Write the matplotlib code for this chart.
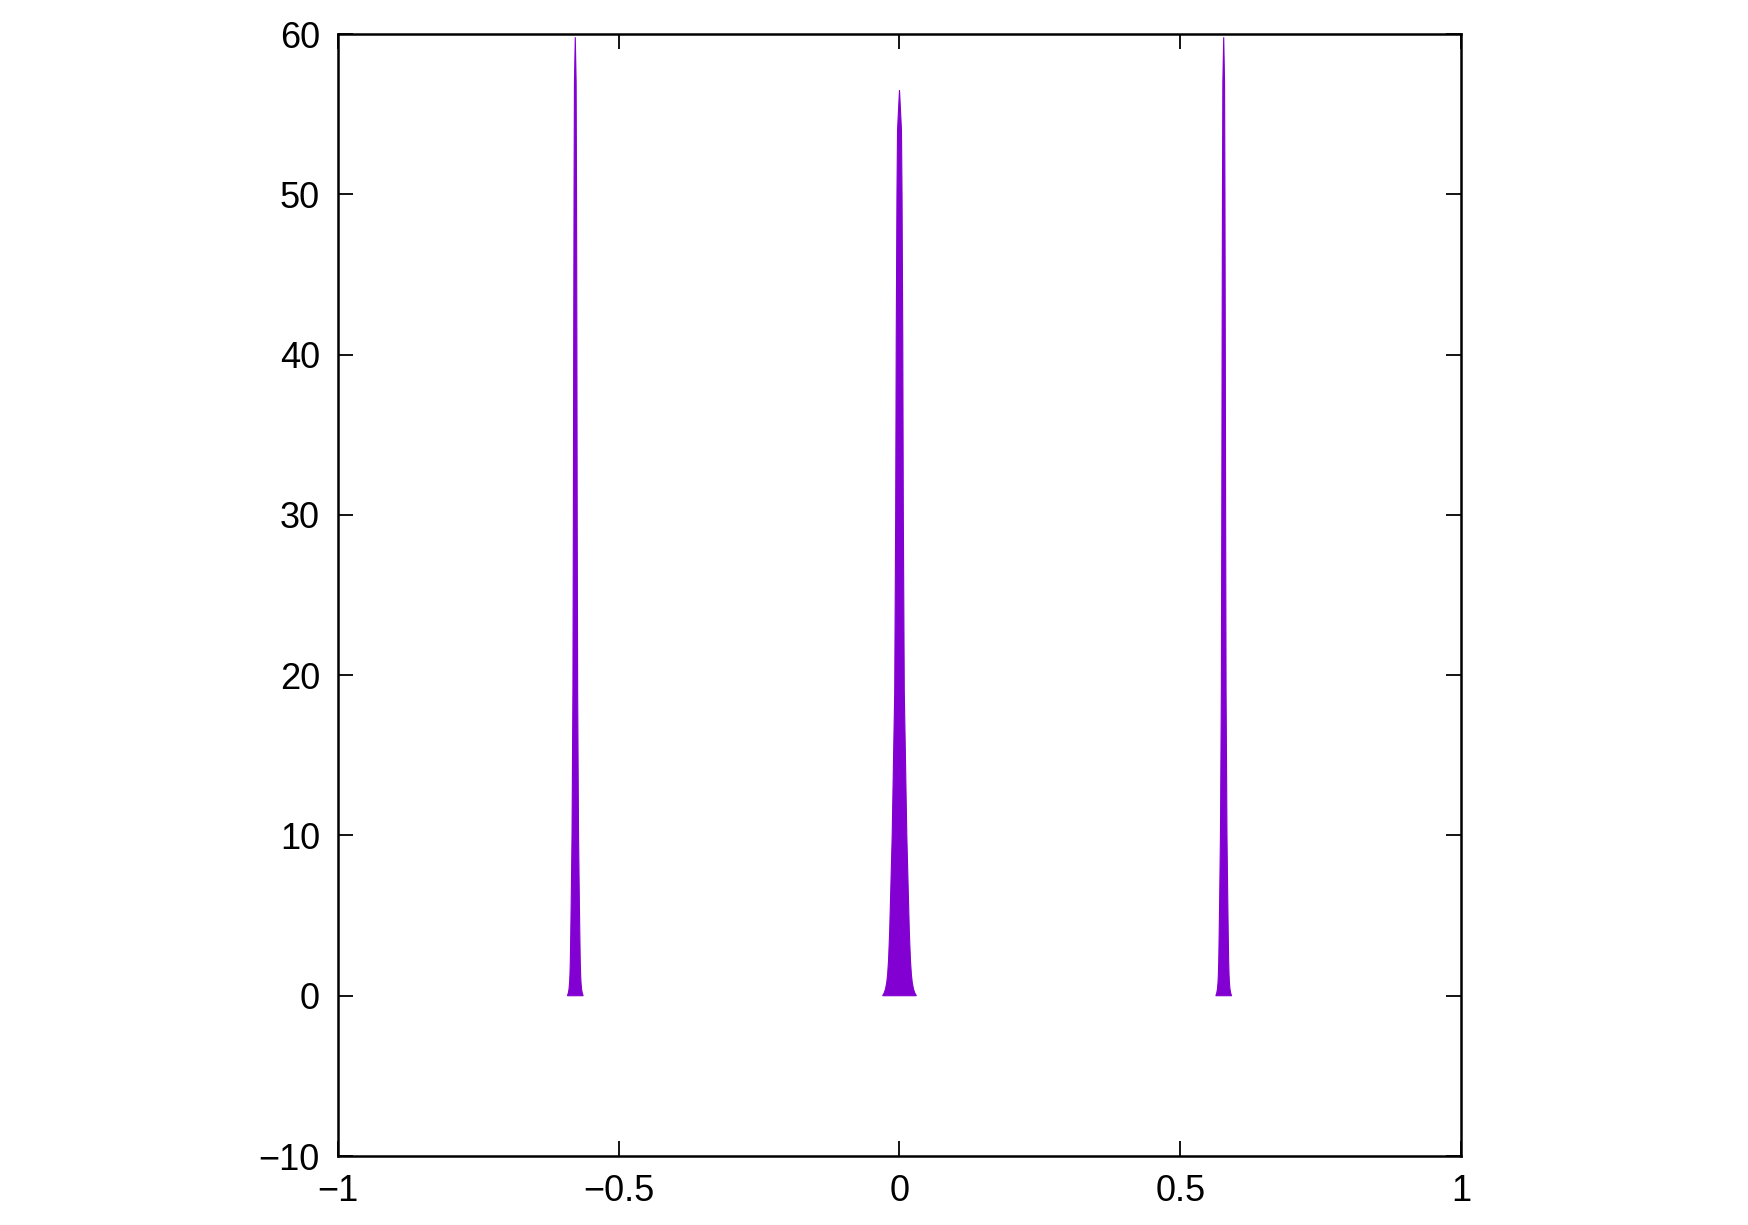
import numpy as np
import matplotlib
matplotlib.use("Agg")
import matplotlib.pyplot as plt

plt.rcParams['font.family'] = ['Liberation Sans', 'DejaVu Sans']

# peak centres (x)
peak_centers = [-0.5774, 0.0, 0.5774]
# profile of the central peak: heights and half-widths (data units)
center_heights = [0.0, 0.15, 0.4, 0.8, 1.3, 2.2, 4.0, 6.0, 10.0, 19.0, 30.0, 41.0, 50.0, 54.0, 56.5]
center_halfw = [0.0300, 0.0275, 0.0250, 0.0228, 0.0212, 0.0195, 0.0175, 0.0160, 0.0130, 0.0085, 0.0068, 0.0058, 0.0045, 0.0035, 0.0]
# profile of the side peaks
side_heights = [0.0, 0.15, 0.4, 0.8, 1.3, 2.2, 4.0, 6.0, 10.0, 19.0, 30.0, 41.0, 50.0, 57.0, 59.8]
side_halfw = [0.0140, 0.0125, 0.0112, 0.0102, 0.0095, 0.0088, 0.0080, 0.0072, 0.0058, 0.0042, 0.0034, 0.0028, 0.0022, 0.0015, 0.0]

x_ticks = [-1, -0.5, 0, 0.5, 1]
x_labels = ['\u22121', '\u22120.5', '0', '0.5', '1']
y_ticks = [-10, 0, 10, 20, 30, 40, 50, 60]
y_labels = ['\u221210', '0', '10', '20', '30', '40', '50', '60']

color = '#8200D2'

fig = plt.figure(figsize=(17.49, 12.25), dpi=100)
ax = fig.add_axes([338 / 1749, 1 - 1156 / 1225, (1461 - 338) / 1749, (1156 - 34) / 1225])

for i, c in enumerate(peak_centers):
    if i == 1:
        h, w = np.array(center_heights), np.array(center_halfw)
    else:
        h, w = np.array(side_heights), np.array(side_halfw)
    xs = np.concatenate([c - w, (c + w)[::-1]])
    ys = np.concatenate([h, h[::-1]])
    ax.fill(xs, ys, color=color, lw=0.8, edgecolor=color, zorder=2)

ax.set_xlim(-1, 1)
ax.set_ylim(-10, 60)
ax.set_xticks(x_ticks)
ax.set_xticklabels(x_labels)
ax.set_yticks(y_ticks)
ax.set_yticklabels(y_labels)
ax.tick_params(direction='in', length=11, width=1.3, top=True, right=True,
               labelsize=26, color='black')
ax.tick_params(axis='y', pad=13)
ax.tick_params(axis='x', pad=13)
for s in ax.spines.values():
    s.set_linewidth(1.8)
    s.set_zorder(5)

fig.savefig('out.png', dpi=100)
